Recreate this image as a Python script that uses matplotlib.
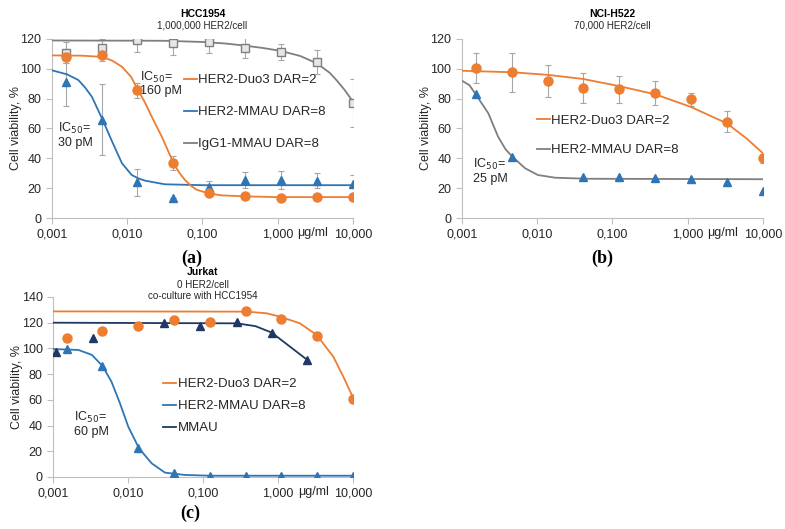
import numpy as np
import matplotlib
matplotlib.use('Agg')
import matplotlib.pyplot as plt
from matplotlib.lines import Line2D

plt.rcParams['font.family'] = ['Liberation Sans', 'DejaVu Sans']

ORANGE = '#ED7D31'
BLUE = '#2E75B6'
GRAY = '#7F7F7F'
NAVY = '#1F3864'
ERR = '#A6A6A6'
TXT = '#262626'

# 3-fold dilution series, ug/ml
conc = [0.00152, 0.00457, 0.0137, 0.0412, 0.123, 0.370, 1.11, 3.33, 10.0]
x_ticks = [0.001, 0.01, 0.1, 1, 10]
x_tick_labels = ['0,001', '0,010', '0,100', '1,000', '10,000']

# ---- (a) HCC1954 ----
duo3_a = [108, 109, 85.5, 37, 16.5, 14.5, 13.5, 14, 14]
duo3_a_err = [4, 4, 5, 4.5, 1, 0.5, 0.5, 0.5, 0.5]
mmau_a = [91, 66, 24, 13.5, 20.5, 25.5, 25.5, 25, 23]
mmau_a_err = [16, 24, 9, 0, 4, 5.5, 6, 5, 6]
igg_a = [110.8, 114.2, 119, 117, 118, 114.2, 111.3, 104.4, 77]
igg_a_err = [7, 6, 8, 8, 7.5, 7, 5.5, 8, 16]

# fitted curves (log10 conc, viability)
duo3_a_fit_u = [-3, -2.6, -2.33, -2.2, -2.07, -1.95, -1.854, -1.76, -1.675, -1.54,
                -1.387, -1.31, -1.233, -1.15, -1.08, -0.92, -0.75, -0.43, 0, 1]
duo3_a_fit_v = [109, 108.8, 108, 105.5, 101.4, 94.7, 85.6, 77, 68, 54.5,
                37, 30.5, 25.5, 21.5, 19, 16.5, 15.2, 14.5, 14, 14]
mmau_a_fit_u = [-3, -2.8, -2.65, -2.56, -2.47, -2.33, -2.21, -2.07, -1.94, -1.85, -1.76, -1.5, -1, 1]
mmau_a_fit_v = [99, 96.3, 92.5, 87.5, 81.3, 66.2, 52.3, 36.7, 28.8, 26.5, 25, 22.6, 22, 22]
igg_a_fit_u = [-3, -1.5, -1, -0.7, -0.43, -0.2, 0.04, 0.3, 0.52, 0.69, 0.78, 0.89, 1]
igg_a_fit_v = [119, 118.8, 118, 117, 115.5, 114, 112, 108.6, 103.7, 97.4, 92.5, 85.8, 78]

# ---- (b) NCI-H522 ----
duo3_b = [100.8, 97.7, 91.8, 87.4, 86.3, 83.6, 79.6, 64.6, 40]
duo3_b_err = [10, 13, 10.5, 10, 9, 8, 4.5, 7, 3]
mmau_b_conc = [0.00152, 0.00457, 0.0412, 0.123, 0.370, 1.11, 3.33, 10.0]
mmau_b = [82.9, 40.9, 27.7, 27.7, 26.8, 25.9, 24.1, 18.3]

duo3_b_fit_u = [-3, -2.33, -1.85, -1.39, -0.92, -0.43, 0.04, 0.3, 0.52, 0.78, 1]
duo3_b_fit_v = [98.7, 97.7, 95.9, 93.2, 88.5, 82.9, 74.5, 68.5, 63.5, 53.4, 43.4]
mmau_b_fit_u = [-3, -2.9, -2.82, -2.65, -2.52, -2.42, -2.33, -2.16, -1.99, -1.76, -1.33, 1]
mmau_b_fit_v = [92, 89, 83.1, 70.2, 54.5, 46, 41.1, 33.3, 28.8, 27, 26.3, 26]

# ---- (c) Jurkat ----
duo3_c = [107.9, 113.8, 117.7, 121.8, 120.5, 128.9, 123.1, 109.9, 60.7]
mmau_c = [99.6, 86.6, 22.3, 2.9, 1, 1, 1, 1, 1]
free_conc = [0.0011, 0.0034, 0.0305, 0.091, 0.28, 0.82, 2.46]
free_c = [97, 108, 120, 117.4, 120.3, 112.3, 91]

duo3_c_fit_u = [-3, -0.417, -0.15, 0.027, 0.293, 0.516, 0.737, 0.871, 1.004]
duo3_c_fit_v = [128.8, 128.6, 127.3, 124.7, 119.5, 110.4, 93.6, 78, 61.2]
mmau_c_fit_u = [-3, -2.66, -2.48, -2.34, -2.22, -2.107, -1.996, -1.853, -1.684, -1.507, -1.24, -0.9, 1]
mmau_c_fit_v = [99.5, 98.8, 94.9, 86.3, 74.1, 57.3, 39.1, 22.3, 10.6, 3.4, 1.6, 1, 1]
free_c_line_u = [-3, -0.55, -0.3, -0.084, 0.391]
free_c_line_v = [120, 119.5, 117.3, 112.3, 91]


def style_axes(ax, ymax):
    ax.set_xscale('log')
    ax.set_xlim(0.001, 10)
    ax.set_ylim(0, ymax)
    ax.set_yticks(np.arange(0, ymax + 1, 20))
    ax.set_xticks(x_ticks, x_tick_labels)
    ax.minorticks_off()
    for s in ['top', 'right']:
        ax.spines[s].set_visible(False)
    for s in ['left', 'bottom']:
        ax.spines[s].set_color('#BFBFBF')
        ax.spines[s].set_linewidth(0.8)
    ax.tick_params(axis='both', colors='#BFBFBF', labelcolor=TXT, labelsize=9, length=4, width=0.8)
    ax.tick_params(axis='x', pad=3.5)
    ax.set_ylabel('Cell viability, %', fontsize=9, color=TXT, labelpad=-1)
    ax.text(0.867, -0.084, 'μg/ml', transform=ax.transAxes, fontsize=9, color=TXT,
            ha='center', va='center')


def fit_line(ax, u, v, color):
    ax.plot(10 ** np.array(u), v, color=color, lw=1.3, zorder=3)


def points(ax, x, y, yerr, marker, color, ms, mfc=None):
    if yerr is not None:
        ax.errorbar(x, y, yerr=yerr, fmt='none', ecolor=ERR, elinewidth=0.8, capsize=2,
                    capthick=0.8, zorder=2)
    ax.plot(x, y, linestyle='None', marker=marker, ms=ms, color=color,
            mfc=mfc if mfc else color, mec=color, mew=1, zorder=4)


def legend(ax, labels, colors, x, y, spacing):
    handles = [Line2D([0], [0], color=c, lw=1.3) for c in colors]
    ax.legend(handles, labels, loc='upper left', bbox_to_anchor=(x, y), frameon=False,
              fontsize=9.5, handlelength=1.0, handletextpad=0.1, labelspacing=spacing,
              borderpad=0, borderaxespad=0, labelcolor=TXT)


def ic50(ax, x, y, value):
    ax.text(x, y, 'IC$_{50}$=\n' + value, transform=ax.transAxes, fontsize=9, color=TXT,
            ha='left', va='top', linespacing=1.1)


def titles(ax, lines, ys):
    for i, (t, yy) in enumerate(zip(lines, ys)):
        ax.text(0.5, yy, t, transform=ax.transAxes, ha='center', va='center',
                fontsize=7.5 if i == 0 else 7.1, fontweight='bold' if i == 0 else 'normal',
                color='black' if i == 0 else TXT)


def panel_label(x, y, text):
    fig.text(x / 785, 1 - y / 529, text, fontsize=13, fontweight='bold',
             family='Liberation Serif', ha='center', va='center')


fig = plt.figure(figsize=(7.85, 5.29), dpi=100)

# (a)
ax = fig.add_axes([0.0662, 0.5879, 0.3834, 0.3384])
style_axes(ax, 120)
fit_line(ax, igg_a_fit_u, igg_a_fit_v, GRAY)
fit_line(ax, mmau_a_fit_u, mmau_a_fit_v, BLUE)
fit_line(ax, duo3_a_fit_u, duo3_a_fit_v, ORANGE)
points(ax, conc, igg_a, igg_a_err, 's', GRAY, 5.5, mfc='#E7E6E6')
points(ax, conc, mmau_a, mmau_a_err, '^', BLUE, 5.5)
points(ax, conc, duo3_a, duo3_a_err, 'o', ORANGE, 6.5)
legend(ax, ['HER2-Duo3 DAR=2', 'HER2-MMAU DAR=8', 'IgG1-MMAU DAR=8'],
       [ORANGE, BLUE, GRAY], 0.4385, 0.805, 1.5)
ic50(ax, 0.293, 0.83, '160 pM')
ic50(ax, 0.02, 0.54, '30 pM')
titles(ax, ['HCC1954', '1,000,000 HER2/cell'], [1.14, 1.073])
panel_label(192, 258, '(a)')

# (b)
ax = fig.add_axes([0.5885, 0.5879, 0.3834, 0.3384])
style_axes(ax, 120)
fit_line(ax, mmau_b_fit_u, mmau_b_fit_v, GRAY)
fit_line(ax, duo3_b_fit_u, duo3_b_fit_v, ORANGE)
points(ax, mmau_b_conc, mmau_b, None, '^', BLUE, 5.5)
points(ax, conc, duo3_b, duo3_b_err, 'o', ORANGE, 6.5)
legend(ax, ['HER2-Duo3 DAR=2', 'HER2-MMAU DAR=8'], [ORANGE, GRAY], 0.248, 0.578, 1.3)
ic50(ax, 0.035, 0.34, '25 pM')
titles(ax, ['NCI-H522', '70,000 HER2/cell'], [1.14, 1.073])
panel_label(602, 258, '(b)')

# (c)
ax = fig.add_axes([0.0675, 0.0983, 0.3822, 0.3403])
style_axes(ax, 140)
fit_line(ax, free_c_line_u, free_c_line_v, NAVY)
fit_line(ax, mmau_c_fit_u, mmau_c_fit_v, BLUE)
fit_line(ax, duo3_c_fit_u, duo3_c_fit_v, ORANGE)
points(ax, free_conc, free_c, None, '^', NAVY, 5.5)
points(ax, conc, mmau_c, None, '^', BLUE, 5.5)
points(ax, conc, duo3_c, None, 'o', ORANGE, 6.5)
legend(ax, ['HER2-Duo3 DAR=2', 'HER2-MMAU DAR=8', 'MMAU'], [ORANGE, BLUE, NAVY],
       0.367, 0.55, 0.75)
ic50(ax, 0.07, 0.37, '60 pM')
titles(ax, ['Jurkat', '0 HER2/cell', 'co-culture with HCC1954'], [1.137, 1.067, 1.006])
panel_label(190, 513, '(c)')

fig.savefig('out.png', dpi=100)
